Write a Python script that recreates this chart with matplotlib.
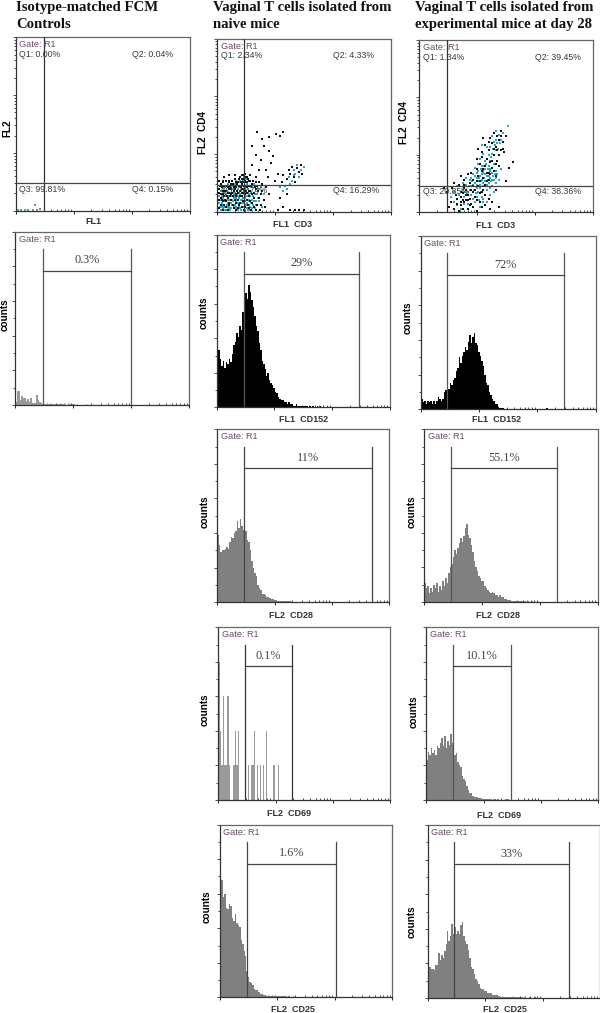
import matplotlib
matplotlib.use('Agg')
import matplotlib.pyplot as plt
import numpy as np

W = 600
H = 1013
SANS = 'Liberation Sans'
SERIF = 'Liberation Serif'

# histogram heights, % of panel height, one value per bin from the left edge
iso_hist = [2, 8, 8, 3, 5, 4, 4, 2.5, 3.5, 1.5, 4, 1, 1, 1, 6, 3, 1.5, 1, .7, .6, .8, 1, .5, .3, .3, .5, .3, 0, .4, .3,
            .4, .3, .5, .3, 0, .3, .3, 0, .8, .3, .2, .3, 0, .2, .2, 0, .2, .3, 0, .2]
cd152_naive = [40, 33, 28, 24, 27, 23, 26, 25, 28, 26, 31, 36, 38, 43, 41, 47, 45, 55, 59, 66,
               63, 71, 67, 62, 58, 53, 47, 44, 37, 33, 27, 25, 22, 18, 20, 16, 14, 13, 11, 9,
               8, 6, 5, 4, 4, 3, 3, 2, 3, 2, 2, 1, 1, 2, 1, 1, 1, .5, 1, .5,
               .5, 0, .5, 0, .5, 0, 0, .5, 0, .5]
cd152_exp = [6, 4, 5, 3, 5, 4, 5, 3, 5, 3, 5, 7, 6, 5, 6, 10, 11, 10, 12, 15,
             14, 17, 18, 22, 24, 30, 27, 31, 33, 36, 34, 39, 43, 38, 42, 44, 38, 37, 33, 31,
             28, 25, 20, 15, 14, 10, 8, 6, 5, 3, 3, 1.5, 1, .7, .5, .3, 0, .3, 0, .3,
             .3, 0, 0, .3, .2, 0, .3, 0, .3, .4, 0, .2, .3, 0, 0, .2, 0, 0, .3, 0,
             0, 0, 0, .8, 0, 0, .2]
cd28_naive = [39, 33, 29, 30, 30, 31, 32, 31, 35, 38, 37, 40, 41, 47, 43, 48, 44, 42, 45, 41,
              36, 35, 30, 24, 20, 17, 15, 10, 8, 7, 5, 5, 4, 3, 3, 2.5, 2, 2, 1.5, 1.5,
              1, 1, 1, 1, .8, .7, .5, .5, .5, .5, .3, .3, .4, .3, .2, .3, .2, .3, .2, .3,
              0, .2, .3, 0, .2, 0, .3, .2, 0, .2]
cd28_exp = [11, 8, 9, 5, 8, 6, 10, 8, 11, 6, 9, 7, 12, 9, 14, 11, 17, 20, 22, 26,
            30, 28, 31, 34, 37, 35, 38, 43, 45, 39, 37, 33, 29, 24, 20, 18, 15, 14, 12, 12,
            9, 8, 7, 6, 5, 6, 5, 4, 4, 3, 4, 3, 3, 2, 2, 1, 1, 1, .7, .5,
            .5, .4, .5, .3, .4, .3, .2, .3, .2, .3, 0, .2, .3, 0, .2]
cd69_naive = [80, 40, 20, 60, 20, 20, 60, 20, 0, 0, 20, 40, 20, 40, 0, 0, 0, 0, 0, 0,
              20, 0, 20, 20, 40, 0, 20, 0, 20, 0, 20, 0, 40, 0, 0, 0, 0, 20, 0, 0, 20]
cd69_exp = [23, 28, 26, 30, 27, 29, 26, 31, 30, 33, 36, 31, 37, 30, 34, 32, 38, 33, 28, 26,
            27, 22, 20, 19, 14, 12, 11, 8, 6, 4, 4, 2.5, 2, 1.5, 1.5, 1, 1, .8, .7, .5,
            .4, .3, .4, .3, .2, .3, .3, .2, .3, .2, 0, .2, 0, .3, .4, .5, .2]
cd25_naive = [70, 68, 58, 60, 52, 51, 54, 53, 46, 44, 48, 43, 42, 41, 33, 31, 27, 24, 15, 12,
              9, 8, 7, 5, 4, 4, 3, 2, 2, 1.5, 1.5, 1, 1, 1, .8, 1, .7, .6, .7, .8,
              .5, .6, .5, .7, .5, .4, .6, .3, .4, .5, .3, 0, .3, .2, 0, .3, 0, .2]
cd25_exp = [18, 18, 17, 17, 16, 19, 19, 26, 22, 25, 23, 27, 31, 39, 33, 36, 43, 37, 41, 37,
            39, 37, 42, 44, 36, 33, 31, 28, 23, 18, 17, 14, 11, 10, 8, 6, 5, 5, 4, 4,
            3, 3, 3, 2, 2, 1.5, 1.5, 1, 1, .7, .7, .5, .6, .4, .5, .6, .4, .3, .5, .3,
            .4, .3, .2, .3, .2, .3, 0, .2, .3, 0, .2, .2, .3]

# dot plot events, (FL1, FL2) in % of the axis
iso_dots = [(1, .5), (3, .6), (5, .5), (7, .6), (10, .5), (12, .5), (11, 3), (14, 1)]
naive_black = [(1, 2), (3, 6), (5, 3), (2, 10), (6, 8), (8, 13), (4, 15), (9, 4), (11, 9), (12, 2), (7, 17), (13, 12),
               (15, 6), (14, 16), (10, 19), (16, 3), (18, 9), (17, 14), (19, 18), (20, 5), (21, 11), (22, 1), (23, 15),
               (24, 8), (25, 4), (26, 12), (27, 7), (28, 14), (30, 10), (2, 4), (1, 7), (3, 12), (4, 9), (6, 1), (7, 5),
               (8, 10), (10, 7), (11, 14), (12, 17), (13, 5), (14, 9), (15, 13), (16, 18), (17, 7), (18, 2), (19, 12),
               (20, 16), (21, 8), (22, 13), (23, 4), (24, 17), (25, 10), (1, 13), (2, 16), (3, 18), (5, 12), (6, 14),
               (9, 16), (11, 1), (12, 11), (14, 3), (15, 19), (16, 10), (18, 15), (19, 21), (21, 3), (22, 20), (16, 22),
               (13, 20), (10, 21), (7, 21), (4, 20), (5, 6), (7, 11), (9, 9), (10, 13), (12, 7), (13, 9), (15, 11),
               (17, 11), (19, 6), (20, 10), (3, 1), (4, 4), (8, 7), (11, 5), (14, 13), (16, 15), (18, 18), (1, 18),
               (2, 8), (6, 11), (5, 18), (8, 16), (15, 21), (17, 20), (14, 19), (16, 20), (15, 17), (17, 17),
               (1, 11), (1.5, 15), (2.5, 14), (3.5, 10), (3.5, 17), (4.5, 12), (5.5, 15), (5.5, 9), (6.5, 13), (6.5, 18),
               (7.5, 14), (7.5, 9), (8.5, 11), (8.5, 18), (9.5, 12), (9.5, 14), (10.5, 10), (10.5, 17), (11.5, 12),
               (11.5, 16), (12.5, 15), (12.5, 19), (13.5, 14), (13.5, 17), (14.5, 11), (14.5, 21), (15.5, 15), (16.5, 12),
               (16.5, 17), (17.5, 19), (18.5, 12), (19.5, 15), (20.5, 18), (21.5, 14), (22.5, 17), (23.5, 12), (25.5, 16),
               (2.5, 7), (4.5, 7), (6.5, 4), (9.5, 2), (12.5, 4), (15.5, 1), (17.5, 4), (19.5, 1), (24.5, 1), (27.5, 3),
               (20, 27), (24, 24), (28, 24), (22, 33), (25, 30), (20, 38), (30, 35), (32, 32), (26, 42), (34, 45),
               (30, 43), (36, 44), (38, 46), (27, 38), (23, 46), (31, 28), (35, 22), (29, 20), (33, 18), (36, 8), (38, 3),
               (40, 10), (42, 1), (45, 1), (47, 1), (50, 1), (35, 1), (37, 17), (40, 19), (42, 22), (44, 20), (46, 25),
               (47, 23), (45, 17), (41, 24), (38, 21), (43, 26), (48, 27), (49, 22)]
naive_cyan = [(2, 1), (4, 3), (6, 5), (8, 2), (10, 4), (12, 1), (14, 5), (16, 1), (18, 4), (20, 2), (3, 8), (5, 10), (7, 7),
              (9, 11), (11, 8), (13, 10), (15, 8), (17, 5), (19, 9), (21, 6), (23, 10), (4, 13), (6, 16), (8, 14),
              (10, 16), (12, 13), (14, 15), (16, 13), (18, 12), (20, 14), (15, 18), (17, 16), (13, 18), (11, 18),
              (1, 5), (2, 12), (5, 1), (7, 3), (9, 6), (11, 3), (13, 2), (15, 3), (17, 2), (19, 3), (6, 3), (8, 5), (10, 9),
              (12, 5), (14, 7), (16, 6), (18, 7), (3, 4), (4, 6), (6, 9), (8, 9), (10, 11), (12, 9), (14, 11), (16, 8),
              (18, 1), (20, 7), (22, 4), (24, 6), (26, 3), (22, 10), (24, 13), (27, 10), (1, 9), (3, 15), (7, 13),
              (9, 13), (13, 15), (15, 15), (17, 9), (19, 15), (21, 16), (25, 14),
              (1.5, 3), (2.5, 5), (3.5, 2), (4.5, 1), (5.5, 4), (6.5, 2), (7.5, 1), (8.5, 4), (9.5, 3), (10.5, 2),
              (11.5, 5), (12.5, 3), (13.5, 1), (14.5, 3), (15.5, 5), (16.5, 4), (17.5, 1), (18.5, 6), (19.5, 5), (20.5, 4),
              (21.5, 2), (22.5, 6), (23.5, 8), (2.5, 9), (3.5, 7), (4.5, 9), (5.5, 7), (6.5, 7), (7.5, 5), (8.5, 7),
              (9.5, 8), (10.5, 6), (11.5, 7), (12.5, 8), (13.5, 7), (14.5, 9), (15.5, 10), (16.5, 9), (17.5, 7), (18.5, 10),
              (19.5, 11), (20.5, 9), (21.5, 10), (5.5, 12), (7.5, 11), (9.5, 10), (11.5, 10), (13.5, 12), (15.5, 12),
              (17.5, 13), (4.5, 15), (8.5, 15), (12.5, 17), (14.5, 17), (16.5, 19), (15.5, 20), (1.5, 7), (2.5, 3),
              (39, 15), (41, 20), (43, 18), (45, 22),
              (47, 20), (44, 24), (46, 27), (48, 24), (50, 26), (42, 16), (38, 12), (36, 14), (40, 13), (44, 21)]
exp_black = [(16, 12), (18, 6), (19, 14), (20, 2), (21, 10), (22, 8), (23, 1), (24, 4), (25, 11), (26, 14), (27, 7), (28, 2),
             (29, 17), (30, 5), (31, 12), (32, 9), (33, 1), (34, 15), (35, 6), (36, 3), (37, 13), (38, 10), (39, 18), (40, 8),
             (42, 6), (44, 13), (46, 3), (20, 17), (23, 16), (26, 19), (28, 22), (30, 23), (31, 19), (33, 25), (34, 21),
             (35, 28), (36, 24), (37, 20), (38, 27), (39, 31), (40, 23), (41, 29), (42, 26), (43, 33), (44, 21), (45, 30),
             (46, 27), (47, 36), (33, 31), (36, 35), (38, 39), (40, 36), (41, 43), (42, 40), (43, 46), (44, 38), (45, 44),
             (46, 42), (47, 47), (48, 41), (50, 44), (49, 35), (52, 26), (54, 29), (50, 18), (34, 37), (37, 43), (24, 21),
             (14, 14), (17, 3), (22, 5), (25, 7), (28, 10), (27, 13), (29, 8), (31, 3), (33, 7), (35, 11), (38, 4), (41, 2),
             (24, 9), (24, 12), (25, 2), (26, 6), (27, 10), (28, 7), (29, 4), (30, 13), (31, 15), (32, 13), (33, 18),
             (35, 18), (36, 12), (37, 25), (38, 16), (39, 23), (40, 19), (41, 22), (42, 30), (43, 24), (44, 28), (36, 32),
             (40, 41), (43, 37), (45, 36), (46, 33), (47, 44), (48, 37), (24, 6), (26, 16)]
exp_cyan = [(18, 9), (20, 12), (22, 15), (23, 10), (25, 17), (26, 5), (27, 16), (28, 12), (29, 19), (30, 15), (31, 22),
            (32, 17), (33, 14), (33, 20), (34, 18), (34, 24), (35, 16), (35, 21), (36, 19), (36, 27), (37, 15), (37, 23),
            (38, 18), (38, 25), (39, 13), (39, 21), (40, 17), (40, 27), (41, 20), (41, 25), (42, 15), (42, 23), (43, 19),
            (43, 28), (44, 17), (44, 24), (45, 22), (46, 19), (47, 25), (30, 10), (32, 6), (34, 12), (36, 9), (24, 2), (26, 9),
            (28, 5), (29, 13), (31, 8), (33, 11), (35, 3), (37, 8), (39, 6), (41, 10), (35, 31), (37, 34), (38, 30), (39, 38),
            (40, 33), (41, 38), (42, 34), (42, 44), (43, 41), (44, 36), (44, 47), (45, 40), (46, 45), (47, 42), (48, 46),
            (36, 39), (34, 28), (32, 26), (30, 20), (27, 20), (25, 13), (22, 4), (20, 6), (33, 16), (35, 14), (37, 17),
            (39, 16), (41, 14), (43, 12), (31, 16), (32, 21), (34, 15), (36, 22), (38, 22), (40, 21), (42, 19), (51, 50),
            (33.5, 23), (34.5, 20), (35.5, 25), (36.5, 17), (37.5, 20), (38.5, 28), (39.5, 19), (40.5, 24), (41.5, 18),
            (42.5, 21), (43.5, 22), (44.5, 20), (35.5, 18), (36.5, 24), (37.5, 27), (39.5, 25), (40.5, 30), (41.5, 32),
            (42.5, 37), (43.5, 39), (44.5, 42), (45.5, 37), (46.5, 40), (31.5, 13), (32.5, 11), (33.5, 9), (34.5, 7),
            (35.5, 12), (36.5, 6), (30.5, 18), (28.5, 15), (26.5, 12)]

# quadrant readouts Q1..Q4 and their split (FL1, FL2)
iso_quad = ['0.00%', '0.04%', '99.81%', '0.15%']
naive_quad = ['2.34%', '4.33%', '76.74%', '16.29%']
exp_quad = ['1.34%', '39.45%', '20.85%', '38.36%']
iso_split = (16.3, 16.1)
naive_split = (15.5, 15.4)
exp_split = (16.1, 15.3)

plt.rcParams['font.family'] = SANS
fig = plt.figure(figsize=(W / 100, H / 100), dpi=100, facecolor='white')


def px_axes(x0, y0, x1, y1):
    # panel box given in image pixels
    ax = fig.add_axes([x0 / W, 1 - y1 / H, (x1 - x0) / W, (y1 - y0) / H])
    ax.set_xlim(0, 100)
    ax.set_ylim(0, 100)
    for s in ['top', 'right']:
        ax.spines[s].set_color('#666666')
    for s in ['left', 'bottom']:
        ax.spines[s].set_color('#333333')
    for s in ax.spines.values():
        s.set_linewidth(0.9)
    decades = np.arange(0, 100.1, 100 / 3)
    logminor = np.array([100 / 3 * (d + np.log10(k)) for d in range(3) for k in range(2, 10)])
    ax.set_xticks(decades)
    ax.set_xticks(logminor, minor=True)
    ax.tick_params(axis='x', which='major', length=2.5, width=0.7, color='#222222', direction='out', labelbottom=False)
    ax.tick_params(axis='x', which='minor', length=1.6, width=0.6, color='#333333', direction='in')
    ax.tick_params(axis='y', which='both', labelleft=False, color='#333333', width=0.6, direction='out')
    ax.tick_params(axis='y', which='major', length=2.5)
    ax.tick_params(axis='y', which='minor', length=1.5)
    ax.text(0.019, 0.956, 'Gate: R1', transform=ax.transAxes, fontsize=6.6, color='#6a4a66', va='center', zorder=6)
    return ax


def px_text(x, y, s, **kw):
    fig.text(x / W, 1 - y / H, s, ha=kw.pop('ha', 'center'), va=kw.pop('va', 'center'), **kw)


def dot_panel(box, black, cyan, quad, split, black_color='#111111'):
    ax = px_axes(*box)
    ax.set_yticks(np.arange(0, 100.1, 100 / 3))
    ax.set_yticks([100 / 3 * (d + np.log10(k)) for d in range(3) for k in range(2, 10)], minor=True)
    if cyan:
        ax.scatter(*zip(*cyan), s=2.0, c='#2ea5c0', marker='s', linewidths=0, zorder=2)
    ax.scatter(*zip(*black), s=1.2, c=black_color, marker='s', linewidths=0, zorder=3)
    ax.axvline(split[0], color='#333333', lw=0.9, zorder=4)
    ax.axhline(split[1], color='#444444', lw=0.9, zorder=4)
    for s, tx, ty in zip(quad, [0.019, 0.668, 0.019, 0.668], [0.90, 0.90, 0.122, 0.122]):
        n = 'Q%d: ' % (quad.index(s) + 1)
        ax.text(tx, ty, n + s, transform=ax.transAxes, fontsize=6.3, color='#2f3f30', va='center', zorder=5)
    return ax


def hist_panel(box, heights, left, right, label, color='#808080', gate_color='#555555'):
    ax = px_axes(*box)
    ax.set_yticks(np.arange(0, 101, 20))
    ax.set_yticks(np.arange(10, 100, 20), minor=True)
    edges = np.linspace(0, 100, 117)[:len(heights) + 1]
    ax.stairs(heights, edges, fill=True, color=color, linewidth=0, zorder=2)
    ax.plot([left, left], [0, 90], color=gate_color, lw=0.9, zorder=3)
    ax.plot([right, right], [0, 90], color=gate_color, lw=0.9, zorder=3)
    ax.plot([left, right], [77.5, 77.5], color='#444444', lw=0.9, zorder=3)
    ax.text((left + right) / 2, 83.5, label, fontsize=8.8, family=SERIF, color='#444444', ha='center', va='center')
    return ax


# titles
title_kw = dict(family=SERIF, fontweight='bold', fontsize=10.6, color='#111111', ha='left')
px_text(16.5, 7.5, 'Isotype-matched FCM', **title_kw)
px_text(16.5, 24.5, 'Controls', **title_kw)
px_text(213, 7, 'Vaginal T cells isolated from', **title_kw)
px_text(213, 24, 'naive mice', **title_kw)
px_text(415, 7.5, 'Vaginal T cells isolated from', **title_kw)
px_text(415, 24.5, 'experimental mice at day 28', **title_kw)

# dot plots
dot_panel((16, 37.3, 190, 210.7), iso_dots, [], iso_quad, iso_split, black_color='#6f8f95')
dot_panel((217.3, 38.7, 391, 211.7), naive_black, naive_cyan, naive_quad, naive_split)
dot_panel((419.3, 40, 592.7, 212.3), exp_black, exp_cyan, exp_quad, exp_split)

# histograms
hist_panel((15.3, 231.7, 189.3, 405), iso_hist, 16.1, 66.3, '0.3%', color='#999999')
hist_panel((216.7, 234.7, 390, 407.3), cd152_naive, 15.6, 82.1, '29%', color='#000000')
hist_panel((421, 236, 595.7, 409.3), cd152_exp, 15.1, 81.9, '72%', color='#000000')
hist_panel((217.3, 429.3, 389.3, 602.3), cd28_naive, 15.3, 90.1, '11%', gate_color='#444444')
hist_panel((424.3, 429.3, 597.7, 602), cd28_exp, 15.4, 76.5, '55.1%')
hist_panel((218.3, 627.3, 390.3, 800), cd69_naive, 15.3, 42.6, '0.1%', color='#9a9a9a', gate_color='#333333')
hist_panel((426.3, 627.3, 598.3, 800), cd69_exp, 15.3, 49.2, '10.1%')
hist_panel((219.7, 824.7, 392.3, 997.3), cd25_naive, 15.6, 67.6, '1.6%', gate_color='#444444')
hist_panel((427.7, 825, 600, 998), cd25_exp, 15.5, 82.2, '33%', gate_color='#444444')

# axis captions
x_kw = dict(fontsize=6.5, color='#333333', fontweight='bold')
px_text(93.7, 221, 'FL1', **x_kw)
px_text(293, 224, 'FL1  CD3', **x_kw)
px_text(496, 225, 'FL1  CD3', **x_kw)
px_text(303.5, 419, 'FL1  CD152', **x_kw)
px_text(497, 420, 'FL1  CD152', **x_kw)
px_text(291, 616, 'FL2  CD28', **x_kw)
px_text(498, 615, 'FL2  CD28', **x_kw)
px_text(289, 813, 'FL2  CD69', **x_kw)
px_text(499, 815, 'FL2  CD69', **x_kw)
px_text(293, 1009, 'FL2  CD25', **x_kw)
px_text(505, 1009, 'FL2  CD25', **x_kw)

y_kw = dict(fontsize=7.2, color='#000000', fontweight='bold', rotation=90)
px_text(7.3, 128, 'FL2', **y_kw)
px_text(203, 132, 'FL2  CD4', **y_kw)
px_text(404, 123, 'FL2  CD4', **y_kw)
px_text(5, 315, 'counts', **y_kw)
px_text(204, 313, 'counts', **y_kw)
px_text(408, 318, 'counts', **y_kw)
px_text(205, 512, 'counts', **y_kw)
px_text(412, 512, 'counts', **y_kw)
px_text(205, 710, 'counts', **y_kw)
px_text(414, 712, 'counts', **y_kw)
px_text(207, 907, 'counts', **y_kw)
px_text(412, 922, 'counts', **y_kw)

fig.savefig('out.png', dpi=100, facecolor='white')
